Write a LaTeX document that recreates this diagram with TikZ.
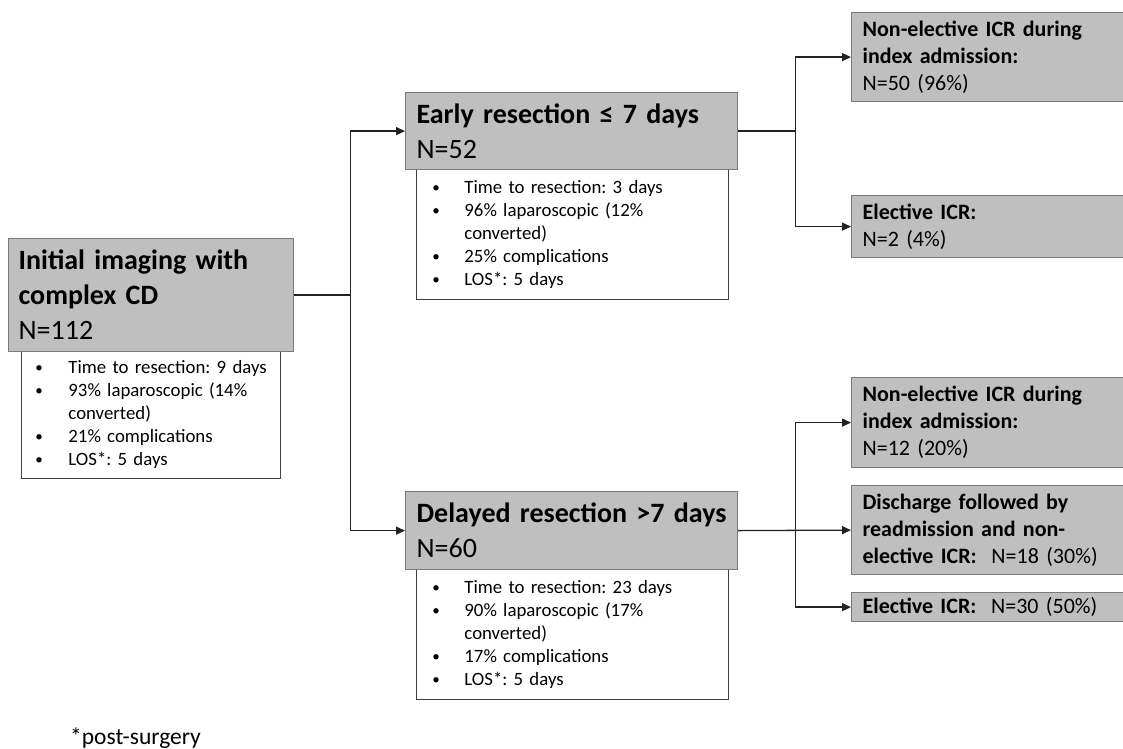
\documentclass[tikz,border=0pt]{standalone}
\usepackage{fontspec}
\setmainfont{Carlito}
\usetikzlibrary{arrows.meta,calc}
\definecolor{boxfill}{HTML}{BFBFBF}
\definecolor{boxline}{HTML}{7A7A7A}
\definecolor{detline}{HTML}{404040}
\definecolor{conn}{HTML}{222222}
\newcommand{\bul}[1]{\makebox[#1][l]{\raisebox{0.15ex}{\scalebox{0.8}{\textbullet}}}}
\frenchspacing
\hfuzz=50pt
\begin{document}
\begin{tikzpicture}[x=1pt,y=-1pt,
  graybox/.style={draw=boxline, line width=1.2pt, fill=boxfill, anchor=north west,
    inner ysep=0pt, align=left, text=black},
  titlebox/.style={graybox, font=\frenchspacing\fontsize{28}{35}\selectfont},
  outbox/.style={graybox, font=\frenchspacing\fontsize{22}{27}\selectfont, inner xsep=11pt,
    text width=262pt, minimum width=284pt},
  detbox/.style={draw=detline, line width=0.9pt, fill=white, anchor=north west,
    inner ysep=0pt, align=left, text=black, font=\frenchspacing\fontsize{18.8}{23}\selectfont},
  arr/.style={draw=conn, line width=1.3pt, -{Triangle[length=9pt,width=8pt]}},
  note/.style={anchor=base west, inner sep=0pt, font=\frenchspacing\fontsize{23.5}{28}\selectfont}
]
\clip (0,0) rectangle (1123,748);
\fill[white] (0,0) rectangle (1123,748);

% initial
\node[detbox, inner xsep=14pt, text width=231pt, minimum width=259pt, minimum height=127pt] (initdet) at (21,351)
 {\mbox{\bul{33pt}Time to resection: 9 days}\\
  \mbox{\bul{33pt}93\% laparoscopic (14\%}\\
  \hspace*{33pt}converted)\\
  \bul{33pt}21\% complications\\
  \bul{33pt}LOS*: 5 days};
\node[titlebox, inner xsep=10pt, text width=265pt, minimum width=285pt, minimum height=113pt] (init) at (8,238)
 {\textbf{Initial imaging with}\\ \textbf{complex CD}\\ N=112};

% early
\node[detbox, inner xsep=16pt, text width=280pt, minimum width=312pt, minimum height=130pt] (earlydet) at (416,169)
 {\bul{32pt}Time to resection: 3 days\\
  \bul{32pt}96\% laparoscopic (12\%\\
  \hspace*{32pt}converted)\\
  \bul{32pt}25\% complications\\
  \bul{32pt}LOS*: 5 days};
\node[titlebox, inner xsep=11pt, text width=310pt, minimum width=332pt, minimum height=77pt] (early) at (405,92)
 {\textbf{Early resection ≤ 7 days}\\ N=52};

% delayed
\node[detbox, inner xsep=16pt, text width=280pt, minimum width=312pt, minimum height=130pt] (delaydet) at (416,569)
 {\bul{32pt}Time to resection: 23 days\\
  \bul{32pt}90\% laparoscopic (17\%\\
  \hspace*{32pt}converted)\\
  \bul{32pt}17\% complications\\
  \bul{32pt}LOS*: 5 days};
\node[titlebox, inner xsep=11pt, text width=310pt, minimum width=332pt, minimum height=78pt] (delayed) at (405,491)
 {\textbf{Delayed resection >7 days}\\ N=60};

% outcomes early
\node[outbox, minimum height=89pt] (ne1) at (851,12)
 {\textbf{Non-elective ICR during}\\ \textbf{index admission:}\\ N=50 (96\%)};
\node[outbox, minimum height=62pt] (el1) at (851,195)
 {\textbf{Elective ICR:}\\ N=2 (4\%)};

% outcomes delayed
\node[outbox, minimum height=90pt] (ne2) at (851,377)
 {\textbf{Non-elective ICR during}\\ \textbf{index admission:}\\ N=12 (20\%)};
\node[outbox, minimum height=89pt] (dis) at (851,485)
 {\textbf{Discharge followed by}\\ \textbf{readmission and non-}\\ \textbf{elective ICR:}\ \ N=18 (30\%)};
\node[outbox, minimum height=29pt] (el2) at (851,592)
 {\textbf{Elective ICR:}\ \ N=30 (50\%)};

% connectors
\draw[arr] (init.east) -- ++(56,0) |- (early.west);
\draw[arr] (init.east) -- ++(56,0) |- (delayed.west);
\draw[arr] (early.east) -- ++(57,0) |- (ne1.west);
\draw[arr] (early.east) -- ++(57,0) |- (el1.west);
\draw[arr] (delayed.east) -- (dis.west);
\coordinate (sp3) at ($(delayed.east)+(57,0)$);
\draw[arr] (sp3) |- (ne2.west);
\draw[arr] (sp3) |- (el2.west);

\node[note] (foot) at (70,744) {*post-surgery};
\end{tikzpicture}
\end{document}
